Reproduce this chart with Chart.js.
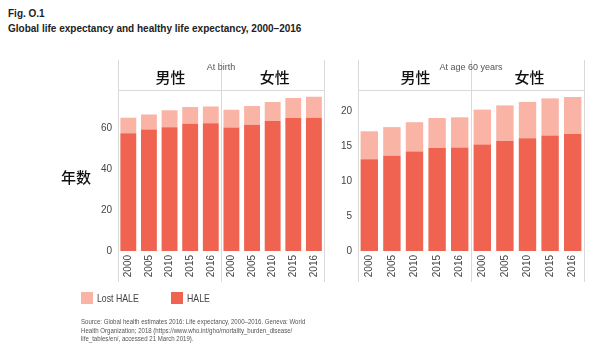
<!DOCTYPE html>
<html>
<head>
<meta charset="utf-8">
<script src="https://cdn.jsdelivr.net/npm/chart.js@4.4.1/dist/chart.umd.min.js"></script>
<style>
  body { margin: 0; width: 600px; height: 353px; background: #fff; position: relative; overflow: hidden; font-family: 'Liberation Sans', sans-serif; }
  .title { position: absolute; left: 8px; font-weight: bold; font-size: 11.5px; color: #222; white-space: nowrap; transform: scaleX(0.87); transform-origin: 0 0; }
  .box { position: absolute; top: 0; height: 353px; }
  .legend { position: absolute; top: 292px; font-size: 11.5px; color: #444; white-space: nowrap; }
  .legend span.sw { display: inline-block; width: 12px; height: 12px; vertical-align: -2px; margin-right: 4px; }
  .legend span.tx { display: inline-block; transform: scaleX(0.76); transform-origin: 0 50%; }
  .source { position: absolute; left: 81px; top: 318px; font-size: 7.8px; line-height: 8.6px; color: #555; white-space: nowrap; transform: scaleX(0.78); transform-origin: 0 0; }
</style>
</head>
<body>
<div class="title" style="top:7px">Fig. O.1</div>
<div class="title" style="top:22px">Global life expectancy and healthy life expectancy, 2000–2016</div>

<div class="box" style="left:0;width:330px"><canvas id="birthChart"></canvas></div>
<div class="box" style="left:330px;width:270px"><canvas id="ageChart"></canvas></div>

<div class="legend" style="left:81px"><span class="sw" style="background:#f9b4a5"></span><span class="tx">Lost HALE</span></div>
<div class="legend" style="left:171px"><span class="sw" style="background:#ef6350"></span><span class="tx">HALE</span></div>

<div class="source">Source: Global health estimates 2016: Life expectancy, 2000–2016. Geneva: World<br>Health Organization; 2018 (https://www.who.int/gho/mortality_burden_disease/<br>life_tables/en/, accessed 21 March 2019).</div>

<script>
'use strict';
// years shown under each group (male then female)
let years = ['2000', '2005', '2010', '2015', '2016'];
let groupNames = ['男性', '女性'];

// life expectancy at birth
let birthMaleLE = [65.0, 66.5, 68.6, 70.2, 70.4];
let birthMaleHALE = [57.4, 59.2, 60.3, 62.0, 62.3];
let birthFemaleLE = [68.9, 70.7, 72.7, 74.6, 75.2];
let birthFemaleHALE = [60.2, 61.5, 63.4, 64.9, 65.0];

// life expectancy at age 60
let age60MaleLE = [17.1, 17.7, 18.4, 19.0, 19.1];
let age60MaleHALE = [13.1, 13.6, 14.2, 14.7, 14.8];
let age60FemaleLE = [20.2, 20.8, 21.3, 21.8, 22.0];
let age60FemaleHALE = [15.2, 15.7, 16.1, 16.5, 16.7];

let birthTicks = [0, 20, 40, 60];
let age60Ticks = [0, 5, 10, 15, 20];

const haleColor = '#ef6350';
const lostColor = '#f9b4a5';
const lineColor = '#d9d9d9';

function lost(le, hale) {
    return le.map((v, i) => +(v - hale[i]).toFixed(1));
}

// frame lines + header texts above each panel
const panelFrame = {
    id: 'panelFrame',
    afterDraw(chart, args, opts) {
        let ctx = chart.ctx;
        let a = chart.chartArea;
        let x = chart.scales.x;
        let mid = (x.getPixelForValue(4) + x.getPixelForValue(5)) / 2;
        let top = a.top - 30;
        let bottom = a.bottom + 31;
        ctx.save();
        ctx.strokeStyle = lineColor;
        ctx.lineWidth = 1;
        ctx.beginPath();
        [a.left, mid, a.right].forEach(px => {
            let p = Math.round(px) + 0.5;
            ctx.moveTo(p, top);
            ctx.lineTo(p, bottom);
        });
        ctx.moveTo(a.left, Math.round(a.top) + 0.5);
        ctx.lineTo(a.right, Math.round(a.top) + 0.5);
        ctx.stroke();

        ctx.textAlign = 'center';
        ctx.textBaseline = 'middle';
        ctx.fillStyle = '#555';
        ctx.font = '9px "Liberation Sans"';
        ctx.fillText(opts.header, mid, a.top - 22);

        ctx.fillStyle = '#111';
        ctx.font = '500 15px "Noto Sans CJK SC"';
        ctx.fillText(groupNames[0], (a.left + mid) / 2 + 1, a.top - 13);
        ctx.fillText(groupNames[1], (mid + a.right) / 2 + 2, a.top - 13);

        if (opts.yTitle) {
            ctx.fillText(opts.yTitle, 76, 177);
        }
        ctx.restore();
    }
};

function makeChart(id, le1, hale1, le2, hale2, ticks, max, yWidth, pad, header, yTitle) {
    let ctx = document.getElementById(id).getContext('2d');
    return new Chart(ctx, {
        type: 'bar',
        data: {
            labels: years.concat(years),
            datasets: [
                {
                    label: 'HALE',
                    backgroundColor: haleColor,
                    data: hale1.concat(hale2)
                },
                {
                    label: 'Lost HALE',
                    backgroundColor: lostColor,
                    data: lost(le1, hale1).concat(lost(le2, hale2))
                }
            ]
        },
        options: {
            responsive: true,
            maintainAspectRatio: false,
            animation: false,
            layout: { padding: pad },
            datasets: { bar: { barPercentage: 0.77, categoryPercentage: 1 } },
            plugins: {
                legend: { display: false },
                tooltip: { enabled: false },
                panelFrame: { header: header, yTitle: yTitle }
            },
            scales: {
                x: {
                    stacked: true,
                    grid: { display: false, drawTicks: false },
                    border: { display: false },
                    ticks: {
                        minRotation: 90, maxRotation: 90, autoSkip: false, padding: 4,
                        color: '#444', font: { family: 'Liberation Sans', size: 10 }
                    },
                    afterFit(scale) { scale.height = 30; }
                },
                y: {
                    stacked: true,
                    min: 0,
                    max: max,
                    grid: { display: false, drawTicks: false },
                    border: { display: false },
                    afterBuildTicks(scale) { scale.ticks = ticks.map(v => ({ value: v })); },
                    ticks: {
                        padding: 6,
                        color: '#444', font: { family: 'Liberation Sans', size: 10 }
                    },
                    afterFit(scale) { scale.width = yWidth; }
                }
            }
        },
        plugins: [panelFrame]
    });
}

makeChart('birthChart', birthMaleLE, birthMaleHALE, birthFemaleLE, birthFemaleHALE,
    birthTicks, 78.5, 58, { left: 60, right: 2, top: 90, bottom: 72 }, 'At birth', '年数');
makeChart('ageChart', age60MaleLE, age60MaleHALE, age60FemaleLE, age60FemaleHALE,
    age60Ticks, 23, 24, { left: 4, right: 16, top: 90, bottom: 72 }, 'At age 60 years', null);
</script>
</body>
</html>
